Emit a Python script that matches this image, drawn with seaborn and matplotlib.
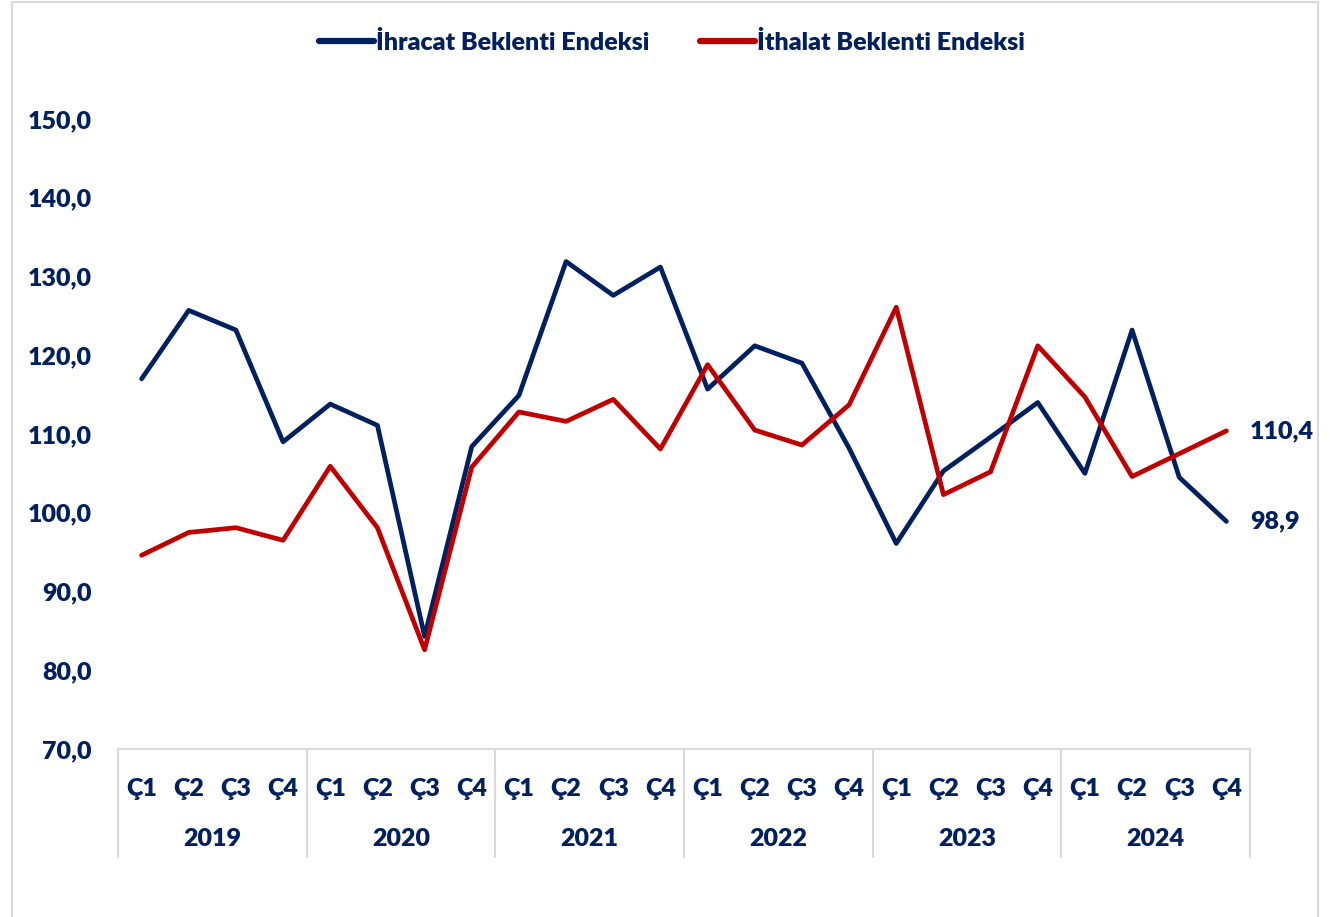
import matplotlib
matplotlib.use("Agg")
import matplotlib.pyplot as plt
import matplotlib.transforms as mtransforms
from matplotlib.patches import Rectangle
from matplotlib.lines import Line2D
import seaborn as sns
import pandas as pd

# Quarterly expectation indices, 2019-2024
years = ["2019", "2020", "2021", "2022", "2023", "2024"]
quarters = ["Ç1", "Ç2", "Ç3", "Ç4"]

ihracat = [117.0, 125.7, 123.2, 109.0,
           113.8, 111.1, 84.3, 108.4,
           114.9, 131.9, 127.6, 131.2,
           115.7, 121.2, 119.0, 108.2,
           96.1, 105.3, 109.6, 114.0,
           105.0, 123.2, 104.5, 98.9]

ithalat = [94.6, 97.5, 98.1, 96.5,
           105.9, 98.1, 82.6, 105.8,
           112.8, 111.6, 114.4, 108.1,
           118.8, 110.5, 108.6, 113.7,
           126.1, 102.3, 105.2, 121.2,
           114.7, 104.6, 107.5, 110.4]

series_names = ["İhracat Beklenti Endeksi", "İthalat Beklenti Endeksi"]
NAVY = "#002060"
RED = "#C00000"
FS = 18
FW = "heavy"

n = len(ihracat)
df = pd.DataFrame({
    "idx": list(range(n)) * 2,
    "value": ihracat + ithalat,
    "series": [series_names[0]] * n + [series_names[1]] * n,
})

sns.set_theme(style="white")
plt.rcParams["font.family"] = ["Lato", "DejaVu Sans"]

fig = plt.figure(figsize=(13.3, 9.17), dpi=100)
ax = fig.add_axes([118 / 1330, 1 - 749 / 917, (1250 - 118) / 1330, (749 - 119) / 917])

sns.lineplot(data=df, x="idx", y="value", hue="series",
             palette=[NAVY, RED], linewidth=3.4, ax=ax, legend=False,
             sort=False)

ax.set_xlim(-0.5, n - 0.5)
ax.set_ylim(70, 150)
ax.set_xlabel("")
ax.set_ylabel("")

# y axis labels with comma decimal separator
yt = list(range(70, 151, 10))
ax.set_yticks(yt)
ax.set_yticklabels([f"{v:.1f}".replace(".", ",") for v in yt],
                   fontsize=FS, fontweight=FW, color=NAVY)
ax.tick_params(axis="y", length=0, pad=19)

# quarter tick labels
ax.set_xticks(range(n))
ax.set_xticklabels(quarters * len(years), fontsize=FS,
                   fontweight=FW, color=NAVY)
ax.tick_params(axis="x", length=0, pad=21)

for side in ["top", "right", "left"]:
    ax.spines[side].set_visible(False)
ax.spines["bottom"].set_color("#D9D9D9")
ax.spines["bottom"].set_linewidth(1.5)

# year group separators and labels below the quarter labels
trans = mtransforms.blended_transform_factory(ax.transData, ax.transAxes)
sep_depth = -(857 - 749) / 630
for k in range(len(years) + 1):
    ax.plot([4 * k - 0.5, 4 * k - 0.5], [0, sep_depth], transform=trans,
            color="#D9D9D9", lw=1.5, clip_on=False)
for k, yr in enumerate(years):
    ax.text(4 * k + 1.5, -(839 - 749) / 630, yr, transform=trans,
            ha="center", va="center", fontsize=FS, fontweight=FW,
            color=NAVY)

# end-of-series value labels
for vals in (ithalat, ihracat):
    ax.text(n - 1 + 0.5, vals[-1], f"{vals[-1]:.1f}".replace(".", ","),
            ha="left", va="center", fontsize=FS, fontweight=FW, color=NAVY)

# legend across the top
handles = [Line2D([], [], color=NAVY, lw=4.5), Line2D([], [], color=RED, lw=4.5)]
leg = fig.legend(handles, series_names, loc="center",
                 bbox_to_anchor=(672 / 1330, 1 - 42 / 917), ncol=2,
                 frameon=False, fontsize=FS, handlelength=2.2,
                 handletextpad=0.1, columnspacing=2.0)
for t in leg.get_texts():
    t.set_color(NAVY)
    t.set_fontweight(FW)

# outer chart frame
fig.patches.append(Rectangle((12 / 1330, -0.01), (1318 - 12) / 1330, 1 - 2 / 917 + 0.01,
                             transform=fig.transFigure, fill=False,
                             edgecolor="#D9D9D9", lw=1.5))

fig.savefig("out.png", dpi=100, facecolor="white")
